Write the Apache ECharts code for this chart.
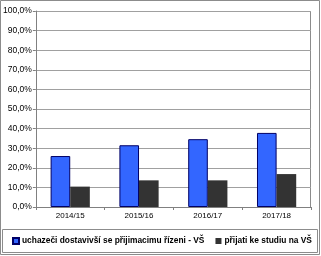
<!DOCTYPE html>
<html><head><meta charset="utf-8">
<script src="https://cdn.jsdelivr.net/npm/echarts@6/dist/echarts.min.js"></script>
<style>html,body{margin:0;padding:0;background:#fff}#c{width:321px;height:256px}</style>
</head><body><div id="c"></div>
<script>
var categories = ['2014/15','2015/16','2016/17','2017/18'];
var seriesNames = ['uchazeči dostavivší se přijimacimu řízeni - VŠ','přijati ke studiu na VŠ'];
var applicants = [26.0, 31.5, 34.6, 37.8];
var admitted = [10.4, 13.6, 13.6, 16.8];
var yMin = 0, yMax = 100, yStep = 10;

var chart = echarts.init(document.getElementById('c'), null, {renderer:'canvas'});
chart.setOption({
  animation:false,
  backgroundColor:'#fff',
  graphic:[
    {type:'rect', shape:{x:0.5,y:0.5,width:319,height:254}, style:{fill:'none',stroke:'#8c8c8c',lineWidth:1}, z:-1},
    {type:'rect', shape:{x:2.5,y:229.5,width:315,height:23}, style:{fill:'none',stroke:'#8c8c8c',lineWidth:1}, z:-1},
    {type:'line', shape:{x1:310.5,y1:11,x2:310.5,y2:207}, style:{stroke:'#8c8c8c',lineWidth:1}}
  ],
  grid:{left:34, right:10, top:11, bottom:49, containLabel:false},
  legend:{
    left:12, top:237, width:310, orient:'horizontal', itemWidth:6, itemHeight:6, itemGap:11, padding:0,
    icon:'rect',
    textStyle:{fontFamily:'Liberation Sans, Arial', fontSize:8.4, fontWeight:'bold', color:'#000', padding:[0,0,0,-2]},
    data:seriesNames
  },
  xAxis:{
    type:'category', data:categories,
    axisLine:{lineStyle:{color:'#808080'}},
    axisTick:{show:true, length:3, lineStyle:{color:'#808080'}},
    axisLabel:{fontFamily:'Liberation Sans, Arial', fontSize:8, color:'#000', margin:5}
  },
  yAxis:{
    type:'value', min:yMin, max:yMax, interval:yStep,
    axisLine:{show:true, lineStyle:{color:'#808080'}},
    axisTick:{show:true, length:3, lineStyle:{color:'#808080'}},
    splitLine:{lineStyle:{color:'#a0a0a0'}},
    axisLabel:{fontFamily:'Liberation Sans, Arial', fontSize:8.5, color:'#000', margin:4,
      formatter:function(v){return v.toFixed(1).replace('.',',')+'%';}}
  },
  series:[
    {name:seriesNames[0], type:'bar', data:applicants, barGap:'0%', barCategoryGap:'43%',
     itemStyle:{color:'#3366ff', borderColor:'#000066', borderWidth:1}},
    {name:seriesNames[1], type:'bar', data:admitted,
     itemStyle:{color:'#333333', borderColor:'#222', borderWidth:0}}
  ]
});
</script></body></html>
